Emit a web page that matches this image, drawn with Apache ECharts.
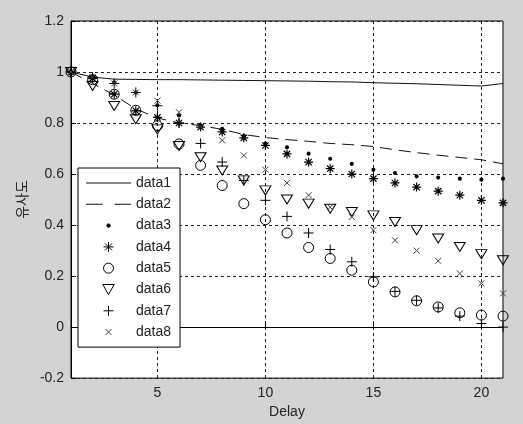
<!DOCTYPE html>
<html><head><meta charset="utf-8">
<script src="https://cdn.jsdelivr.net/npm/echarts@6/dist/echarts.min.js"></script>
<style>html,body{margin:0;padding:0;background:#d3d3d3}#c{width:523px;height:424px}</style>
</head><body><div id="c"></div><script>
const delay = [1,2,3,4,5,6,7,8,9,10,11,12,13,14,15,16,17,18,19,20,21];
const xTicks = [5,10,15,20];
const data1 = [1.0,0.98,0.972,0.971,0.970,0.970,0.969,0.968,0.967,0.966,0.965,0.964,0.962,0.961,0.958,0.956,0.954,0.951,0.948,0.945,0.955];
const data2 = [1.0,0.955,0.91,0.855,0.82,0.80,0.79,0.775,0.755,0.743,0.735,0.728,0.72,0.715,0.708,0.695,0.684,0.674,0.665,0.656,0.64];
const data3 = [1.0,0.98,0.96,0.92,0.87,0.83,0.79,0.777,0.75,0.72,0.705,0.68,0.66,0.64,0.617,0.604,0.591,0.586,0.582,0.578,0.582];
const data4 = [1.0,0.975,0.913,0.848,0.822,0.80,0.784,0.765,0.742,0.712,0.679,0.647,0.621,0.60,0.582,0.565,0.549,0.533,0.517,0.497,0.487];
const data5 = [1.0,0.97,0.913,0.85,0.79,0.718,0.634,0.555,0.484,0.421,0.369,0.312,0.269,0.223,0.177,0.138,0.103,0.079,0.056,0.047,0.043];
const data6 = [1.0,0.945,0.867,0.815,0.775,0.71,0.666,0.614,0.575,0.536,0.5,0.484,0.464,0.451,0.438,0.412,0.38,0.347,0.314,0.286,0.262];
const data7 = [1.0,0.98,0.955,0.92,0.868,0.80,0.72,0.647,0.575,0.497,0.434,0.369,0.304,0.256,0.197,0.14,0.105,0.075,0.043,0.014,0.0];
const data8 = [1.0,0.98,0.955,0.92,0.888,0.842,0.786,0.732,0.673,0.617,0.565,0.517,0.47,0.432,0.38,0.34,0.30,0.26,0.21,0.171,0.132];
const names = ['data1','data2','data3','data4','data5','data6','data7','data8'];

const pts = arr => delay.map((d,i)=>[d, arr[i]]);
const SYM = {
  dot: 'path://M0,0M10,10M3.3,5A1.7,1.7 0 1,0 6.7,5A1.7,1.7 0 1,0 3.3,5Z',
  star: 'path://M5,0L5,10M0,5L10,5M1.5,1.5L8.5,8.5M8.5,1.5L1.5,8.5',
  tri: 'path://M0,0L10,0L5,8.7Z',
  plus: 'path://M5,0L5,10M0,5L10,5',
  cross: 'path://M0,0M10,10M2,2L8,8M8,2L2,8',
  solid: 'path://M0,4.5L45,4.5L45,5.5L0,5.5Z',
  dashed: 'path://M0,4.5L16.5,4.5L16.5,5.5L0,5.5ZM28.5,4.5L45,4.5L45,5.5L28.5,5.5Z'
};
const font = 'Arial, "Liberation Sans", sans-serif';
function sc(name, arr, symbol, size, fill, stroke, bw){
  return {name, type:'scatter', data: pts(arr), symbol, symbolSize:size,
    itemStyle:{color:fill, borderColor:stroke, borderWidth:bw, opacity:1}, z:3};
}
const legendData = names.map(n => n==='data1' ? {name:n, icon:SYM.solid}
                               : n==='data2' ? {name:n, icon:SYM.dashed} : {name:n});
const chart = echarts.init(document.getElementById('c'));
chart.setOption({
  backgroundColor:'#d3d3d3',
  animation:false,
  grid:{left:71,right:20,top:21,bottom:45,show:true,backgroundColor:'#fff',borderColor:'#000',borderWidth:1},
  xAxis:{type:'value',min:1,max:21,
    name:'Delay',nameLocation:'middle',nameGap:21,nameTextStyle:{fontSize:14,color:'#222',fontFamily:font},
    axisLine:{show:true,lineStyle:{color:'#000'}},
    axisTick:{show:true,inside:true,length:5,customValues:xTicks,lineStyle:{color:'#000'}},
    axisLabel:{customValues:xTicks,fontSize:14,color:'#222',fontFamily:font,margin:8},
    splitLine:{show:true,lineStyle:{color:'#222',type:[3,3],width:1}}},
  yAxis:{type:'value',min:-0.2,max:1.2,interval:0.2,
    name:'유사도',nameLocation:'middle',nameGap:42,nameTextStyle:{fontSize:14,color:'#222',fontFamily:'"Noto Sans CJK KR", sans-serif'},
    axisLine:{show:true,lineStyle:{color:'#000'}},
    axisTick:{show:true,inside:true,length:5,lineStyle:{color:'#000'}},
    axisLabel:{fontSize:14,color:'#222',fontFamily:font,margin:7},
    splitLine:{show:true,lineStyle:{color:'#222',type:[3,3],width:1}}},
  legend:{orient:'vertical',left:78,top:168,data:legendData,
    backgroundColor:'#fff',borderColor:'#000',borderWidth:1,borderRadius:0,
    padding:[8,9,8,8],itemGap:7.3,itemWidth:45,itemHeight:10,
    textStyle:{fontSize:14,color:'#222',fontFamily:font},
    itemStyle:{borderWidth:1}},
  series:[
    {name:'data1',type:'line',data:pts(data1),symbol:'none',lineStyle:{color:'#111',width:1,type:'solid'},itemStyle:{color:'#111'},z:2},
    {name:'data2',type:'line',data:pts(data2),symbol:'none',lineStyle:{color:'#111',width:1,type:[12,7]},itemStyle:{color:'#111'},z:2},
    sc('data3',data3,SYM.dot,12,'#000','#000',0),
    sc('data4',data4,SYM.star,9,'rgba(0,0,0,0)','#000',1.2),
    sc('data5',data5,'circle',10,'rgba(0,0,0,0)','#000',1),
    sc('data6',data6,SYM.tri,[11,9],'rgba(0,0,0,0)','#000',1),
    sc('data7',data7,SYM.plus,10,'rgba(0,0,0,0)','#000',1),
    sc('data8',data8,SYM.cross,10,'rgba(0,0,0,0)','#444',1)
  ]
});
</script></body></html>
